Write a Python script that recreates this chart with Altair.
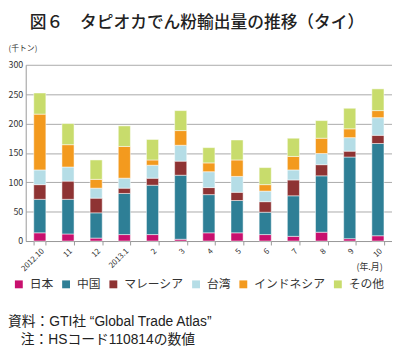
import altair as alt
import pandas as pd

months = ["2012.10", "11", "12", "2013.1", "2", "3", "4", "5", "6", "7", "8", "9", "10"]
series_names = ["日本", "中国", "マレーシア", "台湾", "インドネシア", "その他"]
colors = ["#C8106E", "#2E7F96", "#8E3333", "#B5DDE6", "#F39A1E", "#C8DC6C"]

japan = [14, 12, 5, 11, 11, 3, 14, 14, 11, 8, 15, 4, 9]
china = [57, 59, 43, 70, 84, 109, 65, 55, 38, 69, 96, 139, 157]
malaysia = [25, 31, 25, 9, 12, 24, 12, 14, 18, 27, 19, 10, 14]
taiwan = [25, 24, 17, 17, 22, 27, 27, 27, 18, 17, 19, 23, 30]
indonesia = [95, 38, 15, 54, 9, 25, 15, 28, 11, 23, 26, 15, 12]
other = [36, 36, 33, 35, 35, 34, 26, 34, 29, 31, 30, 35, 37]

y_ticks = [0, 50, 100, 150, 200, 250, 300]
title_text = "図６　タピオカでん粉輸出量の推移（タイ）"
note_lines = ["資料：GTI社 “Global Trade Atlas”", "注：HSコード110814の数値"]

series = [japan, china, malaysia, taiwan, indonesia, other]
rows = []
for i, m in enumerate(months):
    for k, name in enumerate(series_names):
        rows.append({"month": m, "country": name, "value": series[k][i], "order": k})
df = pd.DataFrame(rows)

FONT = "Noto Sans CJK JP"
NOTE_FONT = "Liberation Sans, Noto Sans CJK JP"

bars = alt.Chart(df).mark_bar(stroke="#ffffff", strokeWidth=0.5).encode(
    x=alt.X(
        "month:N", sort=months,
        scale=alt.Scale(paddingInner=0.57, paddingOuter=0.285),
        axis=alt.Axis(
            title="(年.月)", titleX=362, titleY=26, titleAlign="right",
            titleBaseline="middle", titleFontSize=9, titleFontWeight="normal",
            titleColor="#333333", titleFont=FONT,
            labelAngle=-45, labelAlign="right", labelBaseline="top",
            labelFontSize=8, labelColor="#333333", labelFont=FONT, labelPadding=2,
            tickBand="extent", tickSize=4, tickColor="#999999", domainColor="#999999",
        ),
    ),
    y=alt.Y(
        "value:Q", stack="zero", scale=alt.Scale(domain=[0, 300]),
        axis=alt.Axis(
            values=y_ticks, title="(千トン)", titleAngle=0, titleX=-18, titleY=-16,
            titleAlign="left", titleBaseline="middle", titleFontSize=8,
            titleFontWeight="normal", titleColor="#333333", titleFont=FONT,
            labelFontSize=9, labelColor="#333333", labelFont=FONT, labelPadding=3,
            ticks=False, grid=True, gridColor="#aaaaaa", domainColor="#999999",
        ),
    ),
    color=alt.Color(
        "country:N",
        scale=alt.Scale(domain=series_names, range=colors),
        legend=alt.Legend(
            title=None, orient="none", legendX=-13, legendY=217,
            direction="horizontal", symbolType="square", symbolSize=64,
            symbolStrokeWidth=0, labelFontSize=12, labelFont=FONT,
            labelColor="#333333", columnPadding=6, labelOffset=5,
        ),
    ),
    order=alt.Order("order:Q"),
)

title = alt.Chart(pd.DataFrame({"t": [title_text]})).mark_text(
    font=FONT, fontSize=17, fontWeight=500, align="center", baseline="middle", color="#222222"
).encode(text="t:N", x=alt.value(174), y=alt.value(-42))

note1 = alt.Chart(pd.DataFrame({"t": [note_lines[0]]})).mark_text(
    font=NOTE_FONT, fontSize=14, align="left", baseline="middle", color="#222222"
).encode(text="t:N", x=alt.value(-18), y=alt.value(261))

note2 = alt.Chart(pd.DataFrame({"t": [note_lines[1]]})).mark_text(
    font=NOTE_FONT, fontSize=14, align="left", baseline="middle", color="#222222"
).encode(text="t:N", x=alt.value(-5), y=alt.value(280))

chart = alt.layer(bars, title, note1, note2).properties(
    width=372, height=179,
    autosize=alt.AutoSizeParams(type="none"),
    padding={"left": 18, "top": 55, "right": 0, "bottom": 108},
).configure_view(strokeWidth=0)

chart.save("out.html", embed_options={"renderer": "svg", "actions": False})
